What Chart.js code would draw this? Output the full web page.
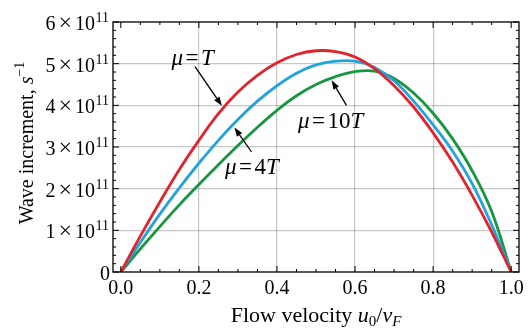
<!DOCTYPE html>
<html><head><meta charset="utf-8">
<script src="https://cdn.jsdelivr.net/npm/chart.js@4/dist/chart.umd.min.js"></script>
<style>html,body{margin:0;padding:0;background:#fff}</style>
</head><body>
<canvas id="c" width="531" height="328"></canvas>
<script>
const xValues     = [0,0.05,0.10,0.15,0.20,0.25,0.30,0.35,0.40,0.45,0.50,0.55,0.60,0.65,0.70,0.75,0.80,0.85,0.90,0.95,1.00];
const redValues   = [0,0.86e11,1.68e11,2.46e11,3.16e11,3.80e11,4.32e11,4.72e11,5.02e11,5.22e11,5.31e11,5.29e11,5.16e11,4.88e11,4.47e11,3.96e11,3.34e11,2.64e11,1.84e11,0.96e11,0];
const blueValues  = [0,0.71e11,1.39e11,2.02e11,2.61e11,3.16e11,3.66e11,4.10e11,4.47e11,4.77e11,4.97e11,5.06e11,5.06e11,4.91e11,4.59e11,4.10e11,3.53e11,2.90e11,2.12e11,1.13e11,0];
const greenValues = [0,0.555e11,1.09e11,1.61e11,2.10e11,2.575e11,3.035e11,3.475e11,3.88e11,4.23e11,4.50e11,4.69e11,4.81e11,4.82e11,4.645e11,4.295e11,3.81e11,3.195e11,2.43e11,1.45e11,0];
const xTickValues = [0,0.2,0.4,0.6,0.8,1.0];
const xTickLabels = ['0.0','0.2','0.4','0.6','0.8','1.0'];
const yTickValues = [0,1e11,2e11,3e11,4e11,5e11,6e11];
const yTickMantissas = ['0','1','2','3','4','5','6'];
const seriesNames = ['\u03bc=T','\u03bc=4T','\u03bc=10T'];
const seriesColors = ['#e3232b','#22a3df','#16963f'];

const SERIF = '"Liberation Serif","Times New Roman",serif';

function pts(ys){ return xValues.map((x,i)=>({x:x,y:ys[i]})); }

function drawRich(ctx, parts, x, y, align){
  let w = 0;
  parts.forEach(p=>{ ctx.font = p.font; p.w = ctx.measureText(p.t).width; w += p.w + (p.gap||0); });
  let cx = align==='center' ? x - w/2 : (align==='right' ? x - w : x);
  ctx.textAlign='left'; ctx.textBaseline='alphabetic';
  parts.forEach(p=>{ ctx.font = p.font; ctx.fillText(p.t, cx, y + (p.dy||0)); cx += p.w + (p.gap||0); });
}
function arrow(ctx, x0,y0,x1,y1){
  const ang = Math.atan2(y1-y0, x1-x0), L=9, W=3.2;
  const bx = x1 - L*Math.cos(ang), by = y1 - L*Math.sin(ang);
  ctx.beginPath(); ctx.moveTo(x0,y0); ctx.lineTo(bx,by); ctx.lineWidth=1.3; ctx.stroke();
  ctx.beginPath(); ctx.moveTo(x1,y1);
  ctx.lineTo(bx + W*Math.sin(ang), by - W*Math.cos(ang));
  ctx.lineTo(bx - W*Math.sin(ang), by + W*Math.cos(ang));
  ctx.closePath(); ctx.fill();
}

const annotations = [
  {parts:[['\u03bc','i'],['=','r'],['T','i']], tx:0.130, ty:4.96e11, sx:0.19, sy:4.93e11, ex:0.259, ey:3.99e11},
  {parts:[['\u03bc','i'],['=','r'],['4','r'],['T','i']], tx:0.267, ty:2.36e11, sx:0.335, sy:2.88e11, ex:0.291, ey:3.47e11},
  {parts:[['\u03bc','i'],['=','r'],['10','r'],['T','i']], tx:0.454, ty:3.46e11, sx:0.578, sy:4.00e11, ex:0.540, ey:4.60e11}
];

const deco = {
  id:'deco',
  afterDraw(chart){
    const {ctx, chartArea:a, scales:{x,y}} = chart;
    ctx.save();
    ctx.strokeStyle='#000'; ctx.fillStyle='#000';
    ctx.lineWidth=1.3;
    ctx.strokeRect(a.left, a.top, a.right-a.left, a.bottom-a.top);
    ctx.lineWidth=1;
    ctx.beginPath();
    for (let i=0;i<=20;i++){
      const px = x.getPixelForValue(xTickValues[0] + i*(xTickValues[1]-xTickValues[0])/4);
      const L = (i%4===0)?6:3;
      ctx.moveTo(px,a.bottom); ctx.lineTo(px,a.bottom-L);
      ctx.moveTo(px,a.top); ctx.lineTo(px,a.top+L);
    }
    for (let i=0;i<=30;i++){
      const py = y.getPixelForValue(yTickValues[0] + i*(yTickValues[1]-yTickValues[0])/5);
      const L = (i%5===0)?6:3;
      ctx.moveTo(a.left,py); ctx.lineTo(a.left+L,py);
      ctx.moveTo(a.right,py); ctx.lineTo(a.right-L,py);
    }
    ctx.stroke();
    const fMain = '20px '+SERIF, fSup = '14px '+SERIF;
    yTickValues.forEach((v,i)=>{
      const py = y.getPixelForValue(v) + 8;
      if (v===0) drawRich(ctx, [{t:'0',font:fMain}], a.left-3, py, 'right');
      else drawRich(ctx, [{t:yTickMantissas[i],font:fMain,gap:3},{t:'\u00d7',font:'24px '+SERIF,gap:3},{t:'10',font:fMain,gap:0.5},{t:'11',font:fSup,dy:-8}], a.left-4, py, 'right');
    });
    ctx.save();
    ctx.translate(33, (a.top+a.bottom)/2 - 4);
    ctx.rotate(-Math.PI/2);
    drawRich(ctx, [{t:'Wave increment, ',font:'20px '+SERIF},{t:'s',font:'italic 20px '+SERIF},{t:'\u22121',font:'14px '+SERIF,dy:-9}], 0, 0, 'center');
    ctx.restore();
    drawRich(ctx, [{t:'Flow velocity ',font:'22px '+SERIF},{t:'u',font:'italic 22px '+SERIF},{t:'0',font:'15px '+SERIF,dy:4},{t:'/',font:'22px '+SERIF},{t:'v',font:'italic 22px '+SERIF},{t:'F',font:'italic 15px '+SERIF,dy:4}], (a.left+a.right)/2, 321.5, 'center');
    annotations.forEach(an=>{
      const parts = an.parts.map((p,k)=>({t:p[0], font:(p[1]==='i'?'italic ':'')+'23px '+SERIF, gap:(k<=1?2.5:0)}));
      drawRich(ctx, parts, x.getPixelForValue(an.tx), y.getPixelForValue(an.ty), 'left');
      arrow(ctx, x.getPixelForValue(an.sx), y.getPixelForValue(an.sy), x.getPixelForValue(an.ex), y.getPixelForValue(an.ey));
    });
    ctx.restore();
  }
};

new Chart(document.getElementById('c'), {
  type:'line',
  data:{ datasets:[
    {label:seriesNames[0], data:pts(redValues),   borderColor:seriesColors[0]},
    {label:seriesNames[1], data:pts(blueValues),  borderColor:seriesColors[1]},
    {label:seriesNames[2], data:pts(greenValues), borderColor:seriesColors[2]}
  ]},
  options:{
    responsive:false, animation:false, devicePixelRatio:1,
    layout:{padding:{left:0,top:22,right:12,bottom:0}},
    elements:{ point:{radius:0}, line:{borderWidth:2.8, tension:0.4, fill:false, capBezierPoints:true} },
    plugins:{legend:{display:false}, tooltip:{enabled:false}},
    scales:{
      x:{ type:'linear', min:-0.02, max:1.02,
          afterBuildTicks(s){ s.ticks = xTickValues.map(v=>({value:v})); },
          afterFit(s){ s.height = 56; },
          grid:{ drawTicks:false, lineWidth:1.2,
                 color:(c)=> (c.tick && (c.tick.value===0 || c.tick.value===1)) ? 'transparent' : 'rgba(0,0,0,0.22)' },
          border:{display:false},
          ticks:{ padding:5, color:'#000', font:{family:SERIF,size:20}, maxRotation:0,
                  callback:(v,i)=> xTickLabels[i] }
      },
      y:{ type:'linear', min:0, max:6e11,
          afterBuildTicks(s){ s.ticks = yTickValues.map(v=>({value:v})); },
          afterFit(s){ s.width = 113; },
          grid:{ drawTicks:false, lineWidth:1.2,
                 color:(c)=> (c.tick && (c.tick.value===0 || c.tick.value===6e11)) ? 'transparent' : 'rgba(0,0,0,0.22)' },
          border:{display:false},
          ticks:{ display:false }
      }
    }
  },
  plugins:[deco]
});
</script>
</body></html>
